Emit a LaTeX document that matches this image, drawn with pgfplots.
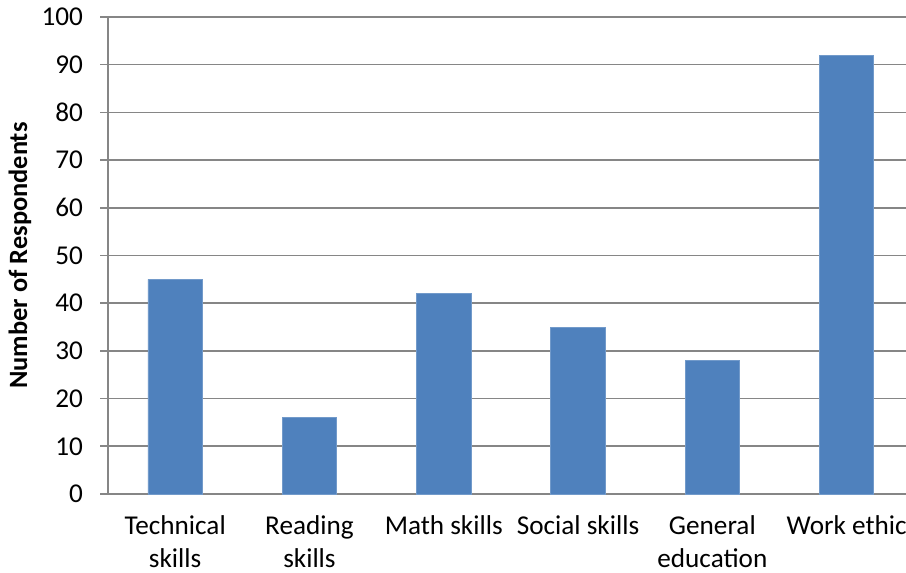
\documentclass[border=0pt]{standalone}
\usepackage{pgfplots}
\pgfplotsset{compat=1.18}
\usepackage{fontspec}
\setmainfont{Carlito}
\definecolor{barblue}{HTML}{4F81BD}
\definecolor{gridgray}{HTML}{868686}
\begin{document}
\begin{tikzpicture}
\useasboundingbox (0,0) rectangle (453pt,286.5pt);
\begin{scope}
\clip (0,0) rectangle (453pt,286.5pt);
\begin{axis}[
  overlay,
  at={(54pt,39.5pt)}, anchor=south west,
  scale only axis,
  width=402.9pt, height=238.5pt,
  xmin=-0.5, xmax=5.5,
  ymin=0, ymax=100,
  ytick={0,10,...,100},
  xtick={0,...,5},
  xticklabels={{Technical\\skills},{Reading\\skills},{Math skills},{Social skills},{General\\education},{Work ethic}},
  minor xtick={-0.5,0.5,...,5.5},
  axis lines=left,
  axis line style={-, draw=gridgray, line width=0.8pt},
  ymajorgrids,
  major grid style={draw=gridgray, line width=0.8pt},
  tick align=outside,
  major tick length=4pt,
  minor tick length=4pt,
  xtick style={draw=none},
  minor tick style={draw=gridgray, line width=0.8pt},
  ytick style={draw=gridgray, line width=0.8pt},
  tick label style={font=\fontsize{13.6}{16.3}\selectfont, text=black},
  xticklabel style={align=center, yshift=-3.5pt},
  yticklabel style={xshift=-5pt},
  /pgf/number format/assume math mode=true,
  ylabel={\textbf{Number of Respondents}},
  every axis y label/.style={at={(rel axis cs:0,0.5)}, rotate=90, anchor=base,
    yshift=40.5pt, font=\fontsize{13.2}{15}\selectfont},
  clip=false,
]
\addplot[ybar, bar width=27.25pt, fill=barblue, draw=barblue!80!white]
  coordinates {(0,45) (1,16) (2,42) (3,35) (4,28) (5,92)};
\end{axis}
\end{scope}
\end{tikzpicture}
\end{document}
